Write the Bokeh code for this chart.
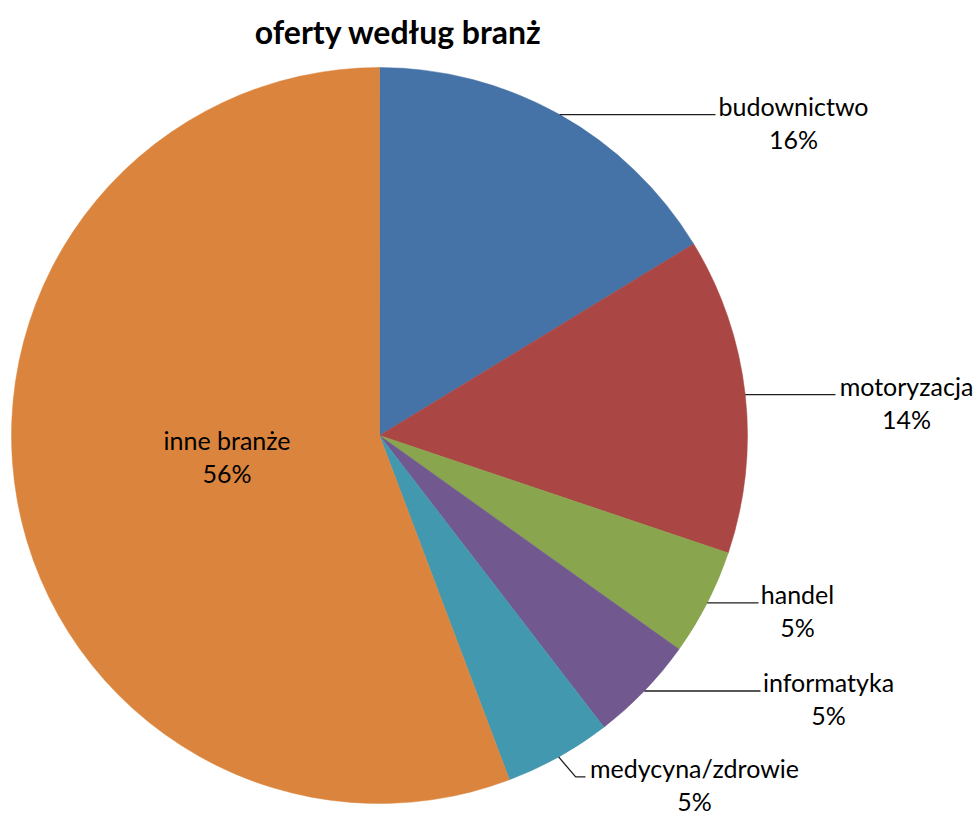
import math
from bokeh.plotting import figure
from bokeh.models import Range1d, ColumnDataSource
from bokeh.core.properties import value
from bokeh.embed import file_html
from bokeh.resources import INLINE

# ---------------- data ----------------
categories = ["budownictwo", "motoryzacja", "handel", "informatyka",
              "medycyna/zdrowie", "inne branże"]
shares = [16.3, 13.9, 4.7, 4.7, 4.7, 55.8]
colors = ["#4572A7", "#AA4643", "#89A54E", "#71588F", "#4198AF", "#DB843D"]
title_text = "oferty według branż"

# ---------------- layout (pixel coordinates of page) ----------------
W, H = 979, 816
CX, CY, R = 379, 435, 368
FONT = "Lato"
FS = "25px"
# outside labels: (line end x, label centre x, elbow dx, elbow dy) ; None = inside
label_layout = [
    (715, 793, 0, 0),
    (835, 906, 0, 0),
    (758, 797, 0, 0),
    (760, 828, 0, 0),
    (585, 694, 17, 20),
    None,
]
INSIDE_R = 155
INSIDE_DY = -7
LINE_GAP = 33


def Y(py):
    return H - py


p = figure(width=W, height=H, output_backend="svg", toolbar_location=None,
           x_range=Range1d(0, W), y_range=Range1d(0, H),
           x_axis_location=None, y_axis_location=None, min_border=0)
p.outline_line_color = None
p.xgrid.visible = False
p.ygrid.visible = False
p.background_fill_color = "white"

total = sum(shares)
starts, ends, mids = [], [], []
cum = 0.0
for s in shares:
    a0 = math.pi / 2 - 2 * math.pi * cum / total
    cum += s
    a1 = math.pi / 2 - 2 * math.pi * cum / total
    starts.append(a0)
    ends.append(a1)
    mids.append((a0 + a1) / 2)

src = ColumnDataSource(dict(start=starts, end=ends, color=colors, cat=categories))
p.wedge(x=CX, y=Y(CY), radius=R, start_angle="start", end_angle="end",
        direction="clock", fill_color="color", line_color="color",
        line_width=0.5, source=src)

pct = [f"{round(100 * s / total)}%" for s in shares]

for i, cat in enumerate(categories):
    m = mids[i]
    lay = label_layout[i]
    if lay is None:
        lx = CX + INSIDE_R * math.cos(m)
        ly = Y(CY) + INSIDE_R * math.sin(m) - INSIDE_DY
        p.text(x=[lx], y=[ly + LINE_GAP / 2], text=[cat], text_align="center",
               text_baseline="middle", text_font=value(FONT),
               text_font_size=FS, text_color="#000000")
        p.text(x=[lx], y=[ly - LINE_GAP / 2], text=[pct[i]], text_align="center",
               text_baseline="middle", text_font=value(FONT),
               text_font_size=FS, text_color="#000000")
        continue
    end_x, cx, edx, edy = lay
    x0 = CX + R * math.cos(m)
    y0 = Y(CY) + R * math.sin(m)
    xs = [x0, x0 + edx, end_x]
    ys = [y0, y0 - edy, y0 - edy]
    p.line(xs, ys, line_color="#1e1e1e", line_width=1.3)
    base = y0 - edy
    p.text(x=[cx], y=[base + 9], text=[cat], text_align="center",
           text_baseline="middle", text_font=value(FONT),
           text_font_size=FS, text_color="#000000")
    p.text(x=[cx], y=[base + 9 - LINE_GAP], text=[pct[i]], text_align="center",
           text_baseline="middle", text_font=value(FONT),
           text_font_size=FS, text_color="#000000")

p.text(x=[398], y=[Y(31)], text=[title_text], text_align="center",
       text_baseline="middle", text_font=value(FONT), text_font_size="32px",
       text_font_style="bold", text_color="#000000")

open("out.html", "w").write(file_html(p, INLINE))
